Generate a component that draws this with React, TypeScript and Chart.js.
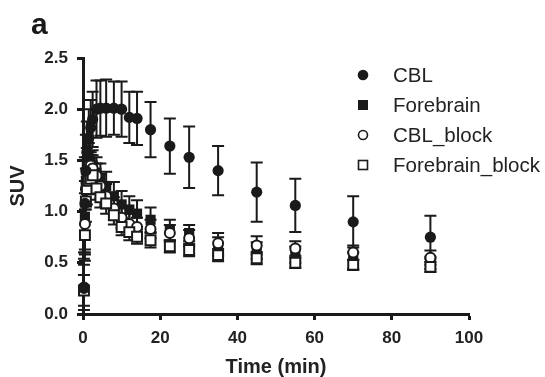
import React, { useEffect, useRef } from "react";
import { Chart, registerables } from "chart.js";

Chart.register(...registerables);

// Time (min)
const timeMin = [0.25, 0.5, 0.75, 1, 1.5, 2, 2.5, 3.5, 4.5, 6, 8, 10, 12, 14, 17.5, 22.5, 27.5, 35, 45, 55, 70, 90];

const cblMean = [0.25, 1.08, 1.4, 1.58, 1.72, 1.82, 1.9, 2.0, 2.01, 2.01, 2.01, 2.0, 1.92, 1.91, 1.8, 1.64, 1.53, 1.4, 1.19, 1.06, 0.9, 0.75];
const cblSd = [0.35, 0.45, 0.35, 0.3, 0.28, 0.27, 0.27, 0.28, 0.27, 0.28, 0.26, 0.27, 0.25, 0.26, 0.27, 0.27, 0.3, 0.24, 0.29, 0.26, 0.25, 0.21];

const forebrainMean = [0.24, 0.95, 1.3, 1.45, 1.5, 1.48, 1.45, 1.38, 1.32, 1.25, 1.15, 1.07, 1.02, 0.98, 0.92, 0.82, 0.79, 0.66, 0.62, 0.58, 0.52, 0.5];
const forebrainSd = [0.3, 0.35, 0.2, 0.17, 0.17, 0.15, 0.15, 0.15, 0.15, 0.14, 0.14, 0.13, 0.13, 0.13, 0.12, 0.1, 0.08, 0.09, 0.08, 0.08, 0.08, 0.06];

const cblBlockMean = [0.26, 0.88, 1.22, 1.38, 1.45, 1.45, 1.42, 1.35, 1.25, 1.15, 1.03, 0.94, 0.88, 0.85, 0.83, 0.79, 0.74, 0.69, 0.67, 0.64, 0.6, 0.55];
const cblBlockSd = [0.22, 0.3, 0.2, 0.15, 0.14, 0.13, 0.13, 0.12, 0.12, 0.12, 0.11, 0.1, 0.1, 0.09, 0.09, 0.08, 0.08, 0.1, 0.09, 0.07, 0.07, 0.07];

const forebrainBlockMean = [0.23, 0.77, 1.1, 1.22, 1.3, 1.32, 1.355, 1.225, 1.14, 1.08, 0.965, 0.85, 0.8, 0.755, 0.72, 0.66, 0.625, 0.575, 0.545, 0.5, 0.48, 0.46];
const forebrainBlockSd = [0.15, 0.25, 0.2, 0.15, 0.13, 0.12, 0.12, 0.11, 0.1, 0.1, 0.09, 0.08, 0.08, 0.07, 0.07, 0.06, 0.06, 0.06, 0.06, 0.05, 0.05, 0.05];

const seriesNames = ["CBL", "Forebrain", "CBL_block", "Forebrain_block"];
const xTitle = "Time (min)";
const yTitle = "SUV";
const panelLabel = "a";

const FONT = "'Liberation Sans', Arial, Helvetica, sans-serif";
const INK = "#1a1a1a";

const errorBarPlugin = {
  id: "errorBars",
  beforeDatasetsDraw(chart: any) {
    const { ctx } = chart;
    const x = chart.scales.x;
    const y = chart.scales.y;
    ctx.save();
    ctx.strokeStyle = INK;
    ctx.lineWidth = 2;
    chart.data.datasets.forEach((ds: any) => {
      const err: number[] = ds.errors;
      ds.data.forEach((p: any, j: number) => {
        const px = x.getPixelForValue(p.x);
        const top = y.getPixelForValue(p.y + err[j]);
        const bot = y.getPixelForValue(Math.max(0, p.y - err[j]));
        ctx.beginPath();
        ctx.moveTo(px, top);
        ctx.lineTo(px, bot);
        ctx.moveTo(px - 6, top);
        ctx.lineTo(px + 6, top);
        ctx.moveTo(px - 6, bot);
        ctx.lineTo(px + 6, bot);
        ctx.stroke();
      });
    });
    ctx.restore();
  },
};

const legendPlugin = {
  id: "customLegend",
  afterDraw(chart: any) {
    const { ctx } = chart;
    ctx.save();
    const mx = 363;
    const tx = 393;
    const y0 = 75;
    const dy = 30;
    seriesNames.forEach((name, i) => {
      const cy = y0 + i * dy;
      ctx.lineWidth = 1.6;
      ctx.strokeStyle = INK;
      ctx.fillStyle = INK;
      if (i === 0) {
        ctx.beginPath();
        ctx.arc(mx, cy, 5.3, 0, Math.PI * 2);
        ctx.fill();
      } else if (i === 1) {
        ctx.fillRect(mx - 5, cy - 5, 10, 10);
      } else if (i === 2) {
        ctx.fillStyle = "#fff";
        ctx.beginPath();
        ctx.arc(mx, cy, 4.5, 0, Math.PI * 2);
        ctx.fill();
        ctx.stroke();
      } else {
        ctx.fillStyle = "#fff";
        ctx.fillRect(mx - 4.5, cy - 4.5, 9, 9);
        ctx.strokeRect(mx - 4.5, cy - 4.5, 9, 9);
      }
      ctx.fillStyle = "#222";
      ctx.font = `20.5px ${FONT}`;
      ctx.textBaseline = "middle";
      ctx.textAlign = "left";
      ctx.fillText(name, tx, cy + 1);
    });
    ctx.fillStyle = INK;
    ctx.font = `bold 30px ${FONT}`;
    ctx.textBaseline = "alphabetic";
    ctx.fillText(panelLabel, 31, 34);
    ctx.restore();
  },
};

function pts(means: number[]) {
  return means.map((v, i) => ({ x: timeMin[i], y: v }));
}

export default function App() {
  const ref = useRef<HTMLCanvasElement | null>(null);
  useEffect(() => {
    if (!ref.current) return;
    const chart = new Chart(ref.current, {
      type: "scatter",
      data: {
        datasets: [
          {
            label: seriesNames[0],
            data: pts(cblMean),
            errors: cblSd,
            pointStyle: "circle",
            pointRadius: 5.6,
            pointBorderWidth: 0,
            backgroundColor: INK,
            borderColor: INK,
            order: 0,
            clip: false,
          } as any,
          {
            label: seriesNames[1],
            data: pts(forebrainMean),
            errors: forebrainSd,
            pointStyle: "rect",
            pointRadius: 7.2,
            pointBorderWidth: 0,
            backgroundColor: INK,
            borderColor: INK,
            order: 3,
            clip: false,
          } as any,
          {
            label: seriesNames[2],
            data: pts(cblBlockMean),
            errors: cblBlockSd,
            pointStyle: "circle",
            pointRadius: 5,
            pointBorderWidth: 2,
            backgroundColor: "#fff",
            borderColor: INK,
            order: 2,
            clip: false,
          } as any,
          {
            label: seriesNames[3],
            data: pts(forebrainBlockMean),
            errors: forebrainBlockSd,
            pointStyle: "rect",
            pointRadius: 7,
            pointBorderWidth: 2,
            backgroundColor: "#fff",
            borderColor: INK,
            order: 1,
            clip: false,
          } as any,
        ],
      },
      options: {
        animation: false,
        responsive: false,
        layout: { padding: { top: 58, right: 76, left: 0, bottom: 0 } },
        plugins: {
          legend: { display: false },
          tooltip: { enabled: false },
        },
        scales: {
          x: {
            type: "linear",
            min: 0,
            max: 100,
            afterFit: (s: any) => {
              s.height = 63;
            },
            ticks: {
              stepSize: 20,
              color: "#222",
              font: { family: FONT, size: 17, weight: "bold" },
              padding: 8,
              maxRotation: 0,
            },
            grid: {
              display: true,
              drawOnChartArea: false,
              drawTicks: true,
              tickLength: 6,
              tickWidth: 3,
              tickColor: INK,
            },
            border: { display: true, width: 3, color: INK },
            title: {
              display: true,
              text: xTitle,
              color: "#222",
              font: { family: FONT, size: 20, weight: "bold" },
              padding: { top: 2, bottom: -2 },
            },
          },
          y: {
            type: "linear",
            min: 0,
            max: 2.5,
            afterFit: (s: any) => {
              s.width = 83;
            },
            ticks: {
              stepSize: 0.5,
              color: "#222",
              font: { family: FONT, size: 17, weight: "bold" },
              padding: 9,
              callback: (v: any) => Number(v).toFixed(1),
            },
            grid: {
              display: true,
              drawOnChartArea: false,
              drawTicks: true,
              tickLength: 6,
              tickWidth: 3,
              tickColor: INK,
            },
            border: { display: true, width: 3, color: INK },
            title: {
              display: true,
              text: yTitle,
              color: "#222",
              font: { family: FONT, size: 20, weight: "bold" },
              padding: { top: 6, bottom: 0 },
            },
          },
        },
      } as any,
      plugins: [errorBarPlugin, legendPlugin],
    });
    return () => chart.destroy();
  }, []);
  return (
    <div style={{ position: "absolute", left: 0, top: 0, width: 545, height: 377, background: "#fff" }}>
      <canvas ref={ref} width={545} height={377} style={{ display: "block" }} />
    </div>
  );
}
